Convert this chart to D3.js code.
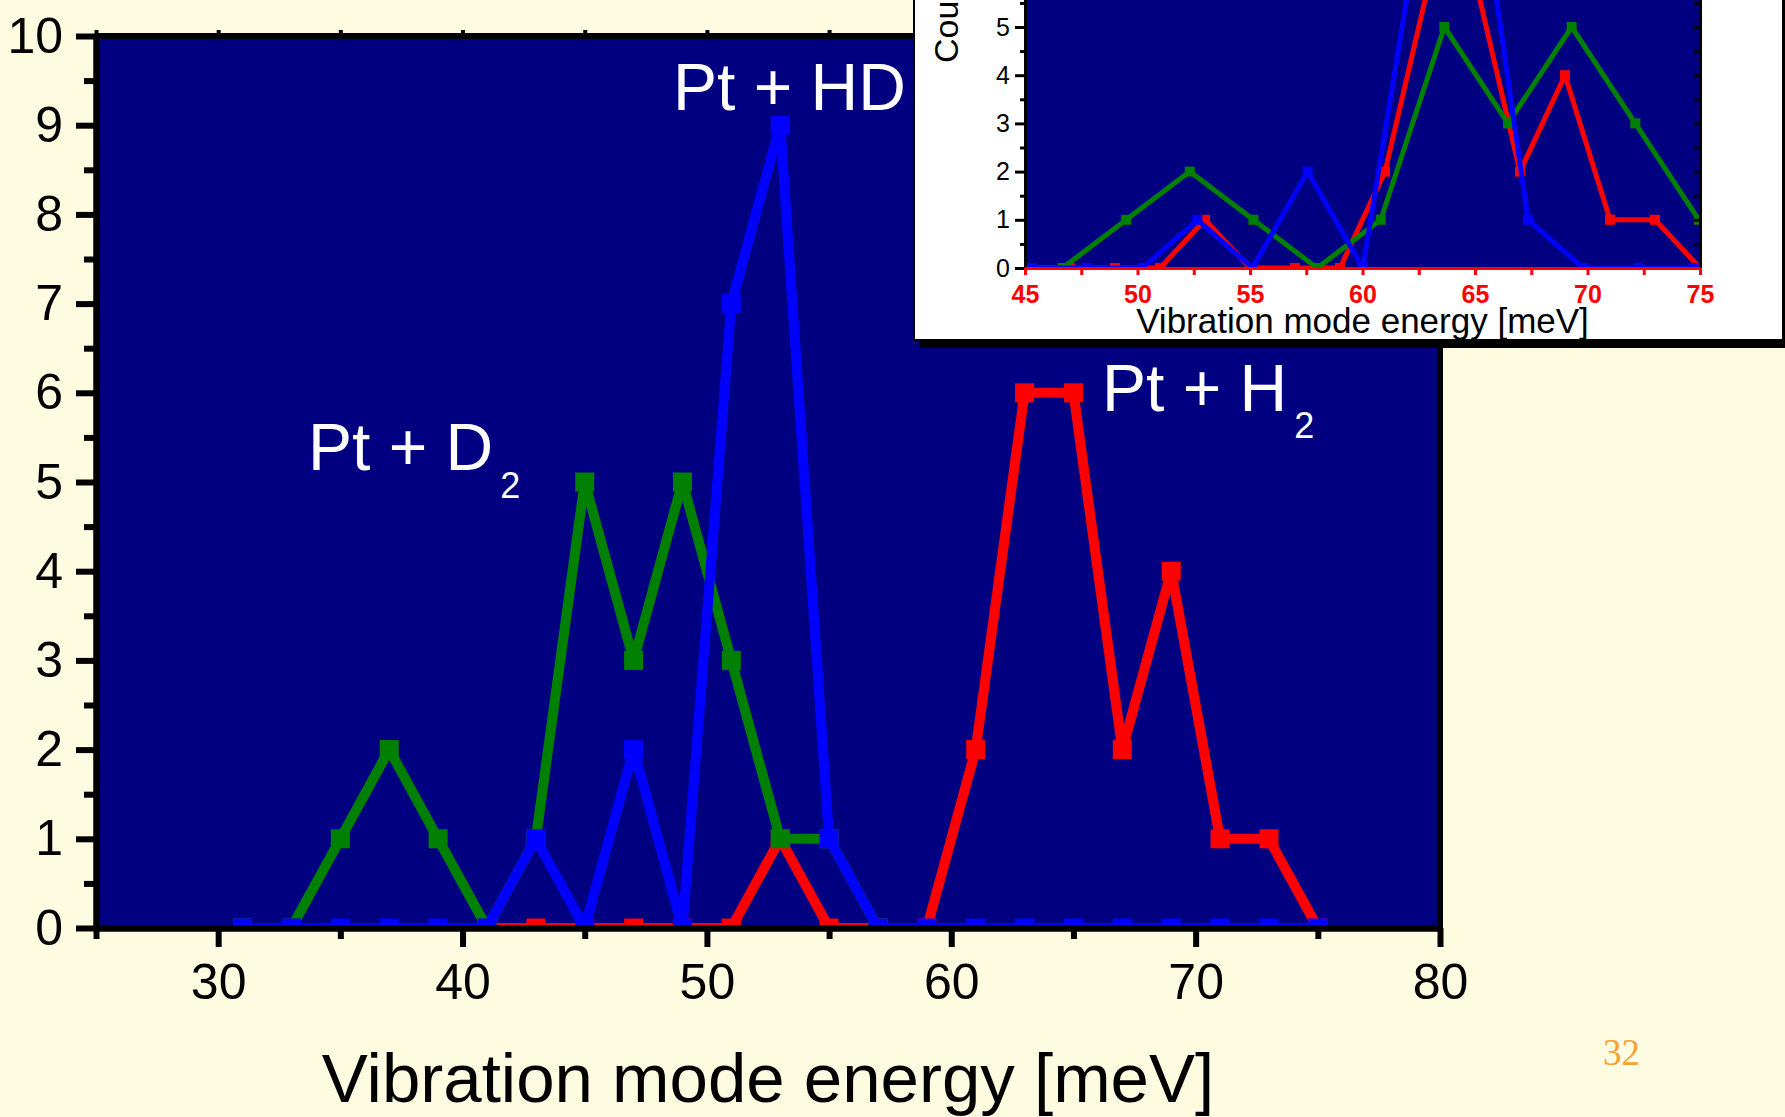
<!DOCTYPE html>
<html>
<head>
<meta charset="utf-8">
<script src="https://cdn.jsdelivr.net/npm/d3@7"></script>
<style>
  body { margin: 0; background: #fdfbe0; overflow: hidden; }
  svg { display: block; }
  text { font-family: "Liberation Sans", Arial, sans-serif; }
</style>
</head>
<body>
<script>
// counts per energy bin
var h2Energy = [41, 43, 45, 47, 49, 51, 53, 55, 57, 59, 61, 63, 65, 67, 69, 71, 73, 75];
var h2Counts = [0, 0, 0, 0, 0, 0, 1, 0, 0, 0, 2, 6, 6, 2, 4, 1, 1, 0];
var hdEnergy = [31, 33, 35, 37, 39, 41, 43, 45, 47, 49, 51, 53, 55, 57, 59, 61, 63, 65, 67, 69, 71, 73, 75];
var hdCounts = [0, 0, 0, 0, 0, 0, 1, 0, 2, 0, 7, 9, 1, 0, 0, 0, 0, 0, 0, 0, 0, 0, 0];
var d2Energy = [31, 33, 35, 37, 39, 41, 43, 45, 47, 49, 51, 53, 55, 57];
var d2Counts = [0, 0, 1, 2, 1, 0, 1, 5, 3, 5, 3, 1, 1, 0];

// inset: same histograms with energies rescaled by isotope mass factor
var insetFactor = { H2: 1, HD: 1.2247, D2: 1.4142 };

var yTicks = [0, 1, 2, 3, 4, 5, 6, 7, 8, 9, 10];
var yMinor = [0.5, 1.5, 2.5, 3.5, 4.5, 5.5, 6.5, 7.5, 8.5, 9.5];
var xTicks = [30, 40, 50, 60, 70, 80];
var xMinor = [25, 35, 45, 55, 65, 75];
var insetXTicks = [45, 50, 55, 60, 65, 70, 75];
var insetXMinor = [47.5, 52.5, 57.5, 62.5, 67.5, 72.5];
var insetYTicks = [0, 1, 2, 3, 4, 5, 6];
var insetYMinor = [0.5, 1.5, 2.5, 3.5, 4.5, 5.5];

var series = [
  { key: "H2", energy: h2Energy, counts: h2Counts, color: "#ff0000" },
  { key: "D2", energy: d2Energy, counts: d2Counts, color: "#008000" },
  { key: "HD", energy: hdEnergy, counts: hdCounts, color: "#0000ff" }
];

var width = 1785, height = 1117;
var navy = "#000080";

var svg = d3.select("body").append("svg")
  .attr("width", width)
  .attr("height", height);

svg.append("rect")
  .attr("width", width).attr("height", height)
  .attr("fill", "#fdfbe0");

// ---------- main chart ----------
var x = d3.scaleLinear().domain([25, 80]).range([96, 1440]);
var y = d3.scaleLinear().domain([0, 10]).range([928, 36]);

svg.append("rect")
  .attr("x", x(25)).attr("y", y(10))
  .attr("width", x(80) - x(25)).attr("height", y(0) - y(10))
  .attr("fill", navy);

svg.append("clipPath").attr("id", "mainClip")
  .append("rect")
  .attr("x", x(25)).attr("y", y(10))
  .attr("width", x(80) - x(25)).attr("height", y(0) - y(10));

function drawSeries(g, xs, ys, s, factor, lw, ms) {
  var pts = s.energy.map(function (e, i) { return [e * factor, s.counts[i]]; });
  var line = d3.line()
    .x(function (d) { return xs(d[0]); })
    .y(function (d) { return ys(d[1]); });
  g.append("path")
    .attr("d", line(pts))
    .attr("fill", "none")
    .attr("stroke", s.color)
    .attr("stroke-width", lw)
    .attr("stroke-linejoin", "round");
  g.selectAll(null)
    .data(pts)
    .enter().append("rect")
    .attr("x", function (d) { return xs(d[0]) - ms / 2; })
    .attr("y", function (d) { return ys(d[1]) - ms / 2; })
    .attr("width", ms).attr("height", ms)
    .attr("fill", s.color);
}

var dataG = svg.append("g").attr("clip-path", "url(#mainClip)");
series.forEach(function (s) { drawSeries(dataG, x, y, s, 1, 10, 19); });

// labels
var labG = svg.append("g").attr("fill", "#ffffff").attr("font-size", 66);
labG.append("text").attr("x", 673).attr("y", 110).text("Pt + HD");
var d2Lab = labG.append("text").attr("x", 308).attr("y", 470);
d2Lab.append("tspan").text("Pt + D");
d2Lab.append("tspan").attr("dx", 7).attr("dy", 28).attr("font-size", 36).text("2");
var h2Lab = labG.append("text").attr("x", 1102).attr("y", 411);
h2Lab.append("tspan").text("Pt + H");
h2Lab.append("tspan").attr("dx", 7).attr("dy", 27).attr("font-size", 36).text("2");

function styleAxis(g, w, color) {
  g.select(".domain").attr("stroke", color).attr("stroke-width", w);
  g.selectAll(".tick line").attr("stroke", color).attr("stroke-width", w);
}

// frame (top + right)
svg.append("path")
  .attr("d", "M" + x(25) + "," + y(10) + "H" + x(80) + "V" + y(0))
  .attr("fill", "none").attr("stroke", "#000").attr("stroke-width", 6);

var topAx = svg.append("g").attr("transform", "translate(0," + y(10) + ")")
  .call(d3.axisTop(x).tickValues(xTicks.concat(xMinor)).tickSize(6).tickSizeOuter(0).tickFormat(""));
styleAxis(topAx, 4, "#000");

var yMinAx = svg.append("g").attr("transform", "translate(" + x(25) + ",0)")
  .call(d3.axisLeft(y).tickValues(yMinor).tickSize(12).tickSizeOuter(0).tickFormat(""));
styleAxis(yMinAx, 6, "#000");
var yAx = svg.append("g").attr("transform", "translate(" + x(25) + ",0)")
  .call(d3.axisLeft(y).tickValues(yTicks).tickSize(20).tickPadding(13).tickSizeOuter(0));
styleAxis(yAx, 6, "#000");
yAx.selectAll("text").attr("font-size", 50).attr("fill", "#000")
  .attr("font-family", "Liberation Sans, Arial, sans-serif");

var xMinAx = svg.append("g").attr("transform", "translate(0," + y(0) + ")")
  .call(d3.axisBottom(x).tickValues(xMinor).tickSize(11).tickSizeOuter(0).tickFormat(""));
styleAxis(xMinAx, 6, "#000");
var xAx = svg.append("g").attr("transform", "translate(0," + y(0) + ")")
  .call(d3.axisBottom(x).tickValues(xTicks).tickSize(19).tickPadding(16).tickSizeOuter(0));
styleAxis(xAx, 6, "#000");
xAx.selectAll("text").attr("font-size", 50).attr("fill", "#000")
  .attr("font-family", "Liberation Sans, Arial, sans-serif");

svg.append("text")
  .attr("x", (x(25) + x(80)) / 2).attr("y", 1102)
  .attr("text-anchor", "middle")
  .attr("font-size", 69)
  .text("Vibration mode energy [meV]");

// slide number
svg.append("text")
  .attr("x", 1603).attr("y", 1065)
  .attr("font-size", 37)
  .attr("fill", "#f7a133")
  .style("font-family", "'Liberation Serif', 'Times New Roman', serif")
  .text("32");

// ---------- inset ----------
var ins = svg.append("g");
ins.append("rect").attr("x", 919).attr("y", -10).attr("width", 880).attr("height", 358).attr("fill", "#000");
ins.append("rect").attr("x", 914).attr("y", -10).attr("width", 869).attr("height", 350)
  .attr("fill", "#ffffff").attr("stroke", "#000").attr("stroke-width", 2);

var ix = d3.scaleLinear().domain([45, 75]).range([1025, 1700]);
var iy = d3.scaleLinear().domain([0, 10]).range([268, -214]);

ins.append("rect")
  .attr("x", ix(45)).attr("y", iy(10))
  .attr("width", ix(75) - ix(45)).attr("height", iy(0) - iy(10))
  .attr("fill", navy);

svg.append("clipPath").attr("id", "insetClip")
  .append("rect")
  .attr("x", ix(45)).attr("y", iy(10))
  .attr("width", ix(75) - ix(45)).attr("height", iy(0) - iy(10));

var insData = ins.append("g").attr("clip-path", "url(#insetClip)");
series.forEach(function (s) { drawSeries(insData, ix, iy, s, insetFactor[s.key], 5, 10); });

var iyMin = ins.append("g").attr("transform", "translate(" + ix(45) + ",0)")
  .call(d3.axisLeft(iy).tickValues(insetYMinor).tickSize(5).tickSizeOuter(0).tickFormat(""));
styleAxis(iyMin, 3, "#000");
var iyAx = ins.append("g").attr("transform", "translate(" + ix(45) + ",0)")
  .call(d3.axisLeft(iy).tickValues(insetYTicks).tickSize(10).tickPadding(5).tickSizeOuter(0));
styleAxis(iyAx, 3, "#000");
iyAx.selectAll("text").attr("font-size", 25).attr("fill", "#000")
  .attr("font-family", "Liberation Sans, Arial, sans-serif");

var iyRight = ins.append("g").attr("transform", "translate(" + ix(75) + ",0)")
  .call(d3.axisRight(iy).tickValues(insetYTicks.concat(insetYMinor)).tickSize(-6).tickSizeOuter(0).tickFormat(""));
styleAxis(iyRight, 3, "#000");

var ixMin = ins.append("g").attr("transform", "translate(0," + iy(0) + ")")
  .call(d3.axisBottom(ix).tickValues(insetXMinor).tickSize(7).tickSizeOuter(0).tickFormat(""));
styleAxis(ixMin, 3, "#ff0000");
var ixAx = ins.append("g").attr("transform", "translate(0," + iy(0) + ")")
  .call(d3.axisBottom(ix).tickValues(insetXTicks).tickSize(7).tickPadding(10).tickSizeOuter(0));
styleAxis(ixAx, 3, "#ff0000");
ixAx.selectAll("text").attr("font-size", 25).attr("font-weight", "bold").attr("fill", "#ff0000")
  .attr("font-family", "Liberation Sans, Arial, sans-serif");

ins.append("text")
  .attr("x", (ix(45) + ix(75)) / 2).attr("y", 333)
  .attr("text-anchor", "middle")
  .attr("font-size", 35)
  .text("Vibration mode energy [meV]");

ins.append("text")
  .attr("transform", "translate(958,63) rotate(-90)")
  .attr("font-size", 34)
  .text("Counts");
</script>
</body>
</html>
